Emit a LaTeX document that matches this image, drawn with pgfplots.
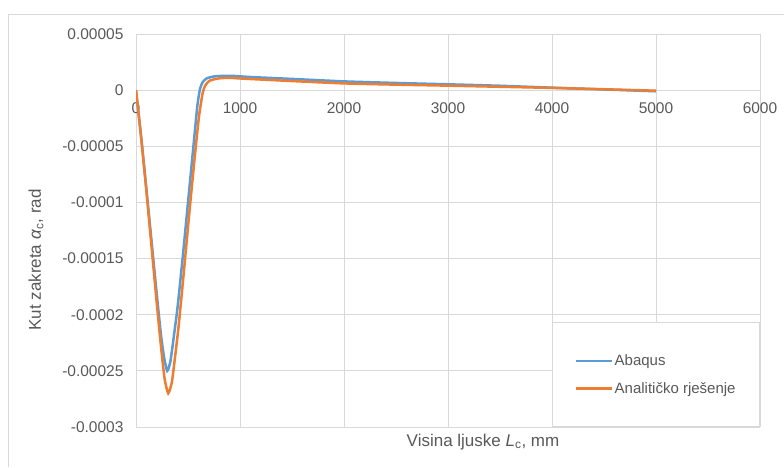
\documentclass[border=0pt]{standalone}
\usepackage{pgfplots}
\pgfplotsset{compat=1.18}
\usepackage{fontspec}
\setmainfont{Liberation Sans}
\definecolor{txt}{HTML}{595959}
\definecolor{grid}{HTML}{D9D9D9}
\definecolor{cblue}{HTML}{5B9BD5}
\definecolor{corange}{HTML}{ED7D31}
\begin{document}
\begin{tikzpicture}[x=1pt,y=1pt]
\useasboundingbox (0,0) rectangle (784,467);
\draw[grid, line width=1pt] (8,0) -- (8,452) -- (784,452);
\begin{axis}[
  at={(136pt,40pt)}, anchor=south west,
  width=624pt, height=393pt, scale only axis,
  xmin=0, xmax=6000, ymin=-0.0003, ymax=0.00005,
  axis x line=middle, axis y line=left,
  axis line style={-, draw=grid, line width=0.8pt},
  hide obscured x ticks=false, hide obscured y ticks=false,
  xtick={0,1000,2000,3000,4000,5000,6000},
  xticklabels={0,1000,2000,3000,4000,5000,6000},
  ytick={-0.0003,-0.00025,-0.0002,-0.00015,-0.0001,-0.00005,0,0.00005},
  yticklabels={-0.0003,-0.00025,-0.0002,-0.00015,-0.0001,-0.00005,0,0.00005},
  scaled y ticks=false, scaled x ticks=false,
  major tick length=0pt,
  grid=major, grid style={draw=grid, line width=0.8pt},
  tick label style={font=\fontsize{15.5}{18}\selectfont, text=txt},
  xticklabel style={yshift=-9pt},
  yticklabel style={xshift=-9pt},
  legend cell align=left,
  legend image code/.code={\draw[#1, line width=2.5pt] (0pt,0pt) -- (36pt,0pt);},
  legend style={at={(1,0)}, anchor=south east, draw=grid, line width=0.8pt, fill=white,
    font=\fontsize{15}{18}\selectfont, text=txt, inner xsep=23pt, inner ysep=30pt, row sep=11pt,
    nodes={inner xsep=1pt}},
]
\addplot[cblue, line width=2.5pt, smooth, tension=0.35] coordinates {
(0,0) (50,-0.000042) (100,-0.000088) (150,-0.000135) (200,-0.000182) (240,-0.000218)
(270,-0.000238) (300,-0.00025) (330,-0.000242) (360,-0.000222) (400,-0.000193)
(450,-0.000148) (500,-0.0001) (550,-0.000052) (590,-0.000014) (615,0.000001)
(640,0.000007) (680,0.0000105) (750,0.0000122) (850,0.0000128) (950,0.0000126)
(1100,0.0000117) (1500,0.0000100) (2000,0.0000078) (2500,0.0000064) (3000,0.0000052)
(3500,0.0000039) (4000,0.0000022) (4500,0.0000006) (5000,-0.000001)
};
\addlegendentry{Abaqus}
\addplot[corange, line width=2.5pt, smooth, tension=0.35] coordinates {
(0,0) (50,-0.000043) (100,-0.00009) (150,-0.00014) (200,-0.00019) (240,-0.000228)
(275,-0.000257) (310,-0.00027) (345,-0.00026) (375,-0.000238) (410,-0.00021)
(460,-0.000162) (510,-0.000112) (560,-0.000064) (605,-0.000024) (640,-0.000003)
(665,0.000004) (710,0.0000085) (800,0.0000105) (900,0.000011) (1000,0.0000104)
(1500,0.0000081) (2000,0.000006) (2500,0.0000049) (3000,0.000004) (3500,0.000003)
(4000,0.000002) (4500,0.0000008) (5000,-0.0000005)
};
\addlegendentry{Analitičko rješenje}
\end{axis}
\node[rotate=90, text=txt, font=\fontsize{17}{20}\selectfont] at (36,207) {Kut zakreta \textit{α}\textsubscript{c}, rad};
\node[text=txt, font=\fontsize{17}{20}\selectfont] at (483,25) {Visina ljuske \textit{L}\textsubscript{c}, mm};
\end{tikzpicture}
\end{document}
